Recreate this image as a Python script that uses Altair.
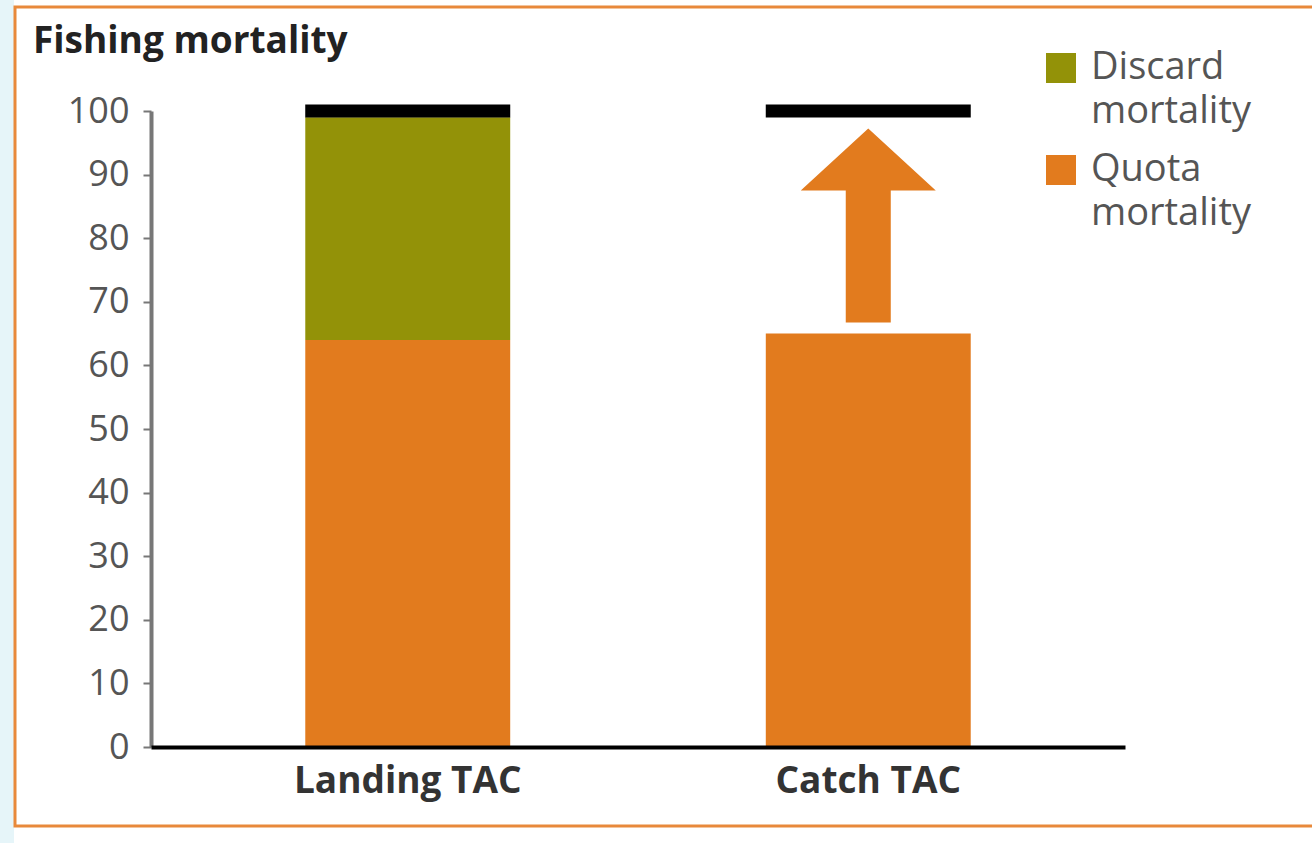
import altair as alt
import pandas as pd

# ---- data ----
title_text = "Fishing mortality"
categories = ["Landing TAC", "Catch TAC"]
quota_mortality = [64, 65]
discard_mortality = [35, 0]
reference_level = [100, 100]
components = ["Discard mortality", "Quota mortality"]
component_colors = ["#939208", "#E27B1E"]
arrow_category = "Catch TAC"
arrow_from = 67
arrow_to = 97

# ---- tables built from the arrays ----
rows = []
for c, q, d in zip(categories, quota_mortality, discard_mortality):
    rows.append({"category": c, "component": "Quota mortality", "low": 0, "high": q})
    if d > 0:
        rows.append({"category": c, "component": "Discard mortality", "low": q, "high": q + d})
bars_df = pd.DataFrame(rows)
ref_df = pd.DataFrame({"category": categories, "level": reference_level})
arrow_df = pd.DataFrame({"category": [arrow_category], "mid": [(arrow_from + arrow_to) / 2]})
deco_df = pd.DataFrame({"a": [0]})
title_df = pd.DataFrame({"t": [title_text]})

FONT = "Open Sans"
x_scale = alt.Scale(domain=categories, paddingInner=0.555, paddingOuter=0.335)
y_scale = alt.Scale(domain=[0, 100], nice=False)

x_axis = alt.Axis(title=None, ticks=False, domainColor="#000000", domainWidth=4,
                  labelFont=FONT, labelFontSize=37, labelFontWeight="bold",
                  labelColor="#333333", labelPadding=16, labelAngle=0, labelLimit=500,
                  zindex=2)
y_axis = alt.Axis(title=None, values=list(range(0, 101, 10)), tickSize=8, tickWidth=2,
                  tickColor="#777777", domainColor="#777777", domainWidth=4,
                  labelFont=FONT, labelFontSize=36, labelColor="#555555",
                  labelPadding=14, grid=False, zindex=1)

side_strip = alt.Chart(deco_df).mark_rect(color="#e6f5f9").encode(
    x=alt.value(-151), x2=alt.value(-137), y=alt.value(-111), y2=alt.value(732))
frame = alt.Chart(deco_df).mark_rect(fill="#ffffff", stroke="#E8893B", strokeWidth=3).encode(
    x=alt.value(-136), x2=alt.value(1175), y=alt.value(-104), y2=alt.value(715))
title = alt.Chart(title_df).mark_text(align="left", baseline="alphabetic", font=FONT,
                                      fontSize=37, fontWeight="bold", color="#222222").encode(
    x=alt.value(-118), y=alt.value(-58), text="t:N")

bars = alt.Chart(bars_df).mark_bar().encode(
    x=alt.X("category:N", scale=x_scale, axis=x_axis, sort=categories),
    y=alt.Y("low:Q", scale=y_scale, axis=y_axis),
    y2="high:Q",
    color=alt.Color("component:N",
                    scale=alt.Scale(domain=components, range=component_colors),
                    legend=alt.Legend(title=None, orient="none", legendX=891, legendY=-62,
                                      symbolType="square", symbolSize=900,
                                      symbolStrokeWidth=0, labelFont=FONT,
                                      labelFontSize=38, labelColor="#555555",
                                      labelLimit=400, labelOffset=11, rowPadding=20,
                                      labelExpr="split(datum.label, ' ')", zindex=2)),
)

ref = alt.Chart(ref_df).mark_tick(orient="horizontal", thickness=13, size=205,
                                  color="#000000", opacity=1).encode(
    x=alt.X("category:N", scale=x_scale, sort=categories),
    y=alt.Y("level:Q", scale=y_scale),
)

ARROW = "M0,-1 L0.696,-0.36 L0.232,-0.36 L0.232,1 L-0.232,1 L-0.232,-0.36 L-0.696,-0.36 Z"
arrow = alt.Chart(arrow_df).mark_point(shape=ARROW, filled=True, size=37636,
                                       color="#E27B1E", opacity=1).encode(
    x=alt.X("category:N", scale=x_scale, sort=categories),
    y=alt.Y("mid:Q", scale=y_scale),
)

chart = alt.layer(side_strip, frame, title, bars, ref, arrow).properties(
    width=974, height=636,
    autosize=alt.AutoSizeParams(type="none"),
    padding={"left": 151, "top": 111, "right": 187, "bottom": 96},
    background="#ffffff",
).configure_view(stroke=None).configure(style={"guide-label": {"lineHeight": 44}})

chart.save("out.html", embed_options={"renderer": "svg", "actions": False})
